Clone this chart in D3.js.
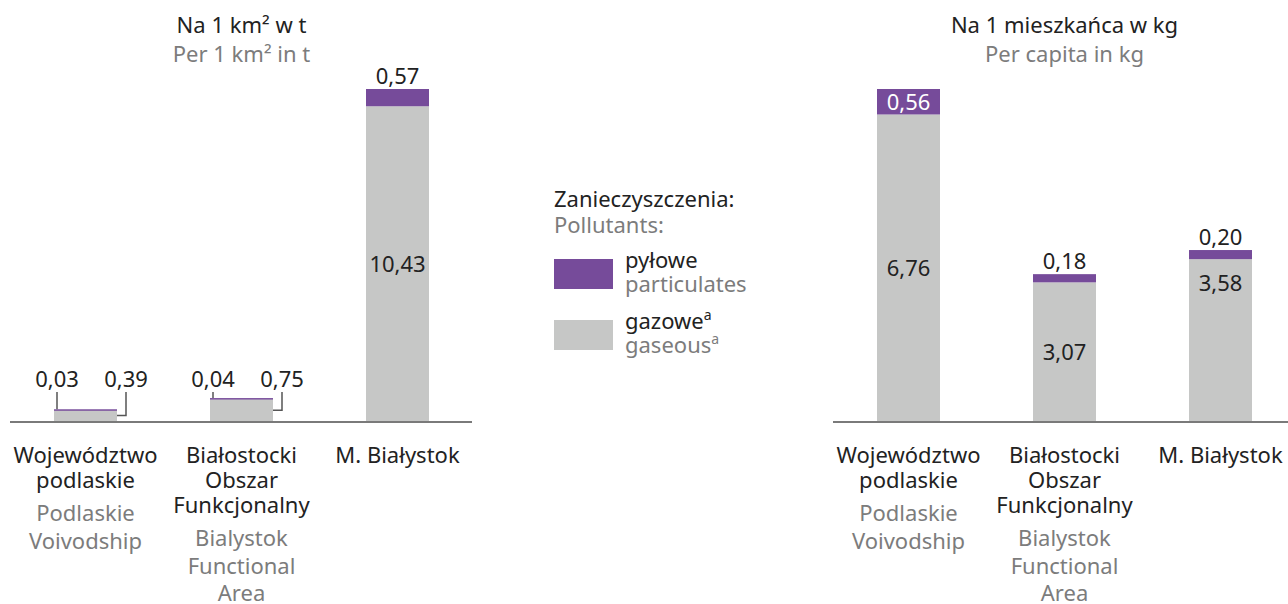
<!DOCTYPE html>
<html>
<head>
<meta charset="utf-8">
<script src="https://d3js.org/d3.v7.min.js"></script>
<style>
  body { margin: 0; background: #fff; }
  svg { display: block; font-family: "Noto Sans", sans-serif; }
</style>
</head>
<body>
<svg width="1288" height="604"></svg>
<script>
 // data
 var categoriesPl = [["Województwo", "podlaskie"], ["Białostocki", "Obszar", "Funkcjonalny"], ["M. Białystok"]];
 var categoriesEn = [["Podlaskie", "Voivodship"], ["Bialystok", "Functional", "Area"], []];
 var areaParticulates = [0.03, 0.04, 0.57];
 var areaGaseous = [0.39, 0.75, 10.43];
 var capitaParticulates = [0.56, 0.18, 0.20];
 var capitaGaseous = [6.76, 3.07, 3.58];
 var titlesPl = ["Na 1 km² w t", "Na 1 mieszkańca w kg"];
 var titlesEn = ["Per 1 km² in t", "Per capita in kg"];

 var PURPLE = "#764b9a", GRAY = "#c6c7c6", DARK = "#222", LIGHT = "#7c7c7c";
 var svg = d3.select("svg");
 var fmt = function (v) { return d3.format(".2f")(v).replace(".", ","); };
 var baseY = 422, topY = 89, barW = 63;

 function panel(idx, particulates, gaseous, xRange, axisRange) {
     var keys = d3.range(categoriesPl.length);
     var x = d3.scalePoint().domain(keys).range(xRange);
     var totals = keys.map(function (i) { return particulates[i] + gaseous[i]; });
     var y = d3.scaleLinear().domain([0, d3.max(totals)]).range([baseY, topY]);
     var g = svg.append("g");
     var cx = (xRange[0] + xRange[1]) / 2;

     g.append("text").attr("x", cx).attr("y", 33).attr("text-anchor", "middle")
        .attr("font-size", 22).attr("fill", DARK).text(titlesPl[idx]);
     g.append("text").attr("x", cx).attr("y", 62).attr("text-anchor", "middle")
        .attr("font-size", 22).attr("fill", LIGHT).text(titlesEn[idx]);

     // gaseous
     g.selectAll("rect.gas").data(keys).enter().append("rect")
        .attr("x", function (i) { return x(i) - barW / 2; })
        .attr("y", function (i) { return y(gaseous[i]); })
        .attr("width", barW)
        .attr("height", function (i) { return baseY - y(gaseous[i]); })
        .attr("fill", GRAY);
     // particulates
     g.selectAll("rect.pm").data(keys).enter().append("rect")
        .attr("x", function (i) { return x(i) - barW / 2; })
        .attr("y", function (i) { return y(totals[i]); })
        .attr("width", barW)
        .attr("height", function (i) { return Math.max(1.5, y(gaseous[i]) - y(totals[i])); })
        .attr("fill", PURPLE);

     g.append("line").attr("x1", axisRange[0]).attr("x2", axisRange[1])
        .attr("y1", baseY).attr("y2", baseY)
        .attr("stroke", "#7a7a7a").attr("stroke-width", 2);

     keys.forEach(function (i) {
         var left = x(i) - barW / 2, right = x(i) + barW / 2;
         var gTop = y(gaseous[i]), pTop = y(totals[i]);
         var gH = baseY - gTop, pH = gTop - pTop;
         if (gH < 30) {
             // small bars: labels with leader lines
             g.append("path").attr("d", "M" + (left + 3) + ",392V" + pTop)
                .attr("fill", "none").attr("stroke", "#555").attr("stroke-width", 1.5);
             g.append("path").attr("d", "M" + (right + 9) + ",392V" + (gTop + gH / 2 - 0.5) + "H" + right)
                .attr("fill", "none").attr("stroke", "#555").attr("stroke-width", 1.5);
             g.append("text").attr("x", left + 3).attr("y", 387).attr("text-anchor", "middle")
                .attr("font-size", 22).attr("fill", DARK).text(fmt(particulates[i]));
             g.append("text").attr("x", right + 9).attr("y", 387).attr("text-anchor", "middle")
                .attr("font-size", 22).attr("fill", DARK).text(fmt(gaseous[i]));
             return;
         }
         if (pH > 22) {
             g.append("text").attr("x", x(i)).attr("y", pTop + pH / 2 + 8).attr("text-anchor", "middle")
                .attr("font-size", 22).attr("fill", "#fff").text(fmt(particulates[i]));
         } else {
             g.append("text").attr("x", x(i)).attr("y", pTop - 5).attr("text-anchor", "middle")
                .attr("font-size", 22).attr("fill", DARK).text(fmt(particulates[i]));
         }
         // gaseous label: centred, the last right-hand bar sits near its top
         var ly = (idx === 1 && i === 2) ? gTop + 32 : gTop + gH / 2 + 8;
         g.append("text").attr("x", x(i)).attr("y", ly).attr("text-anchor", "middle")
            .attr("font-size", 22).attr("fill", DARK).text(fmt(gaseous[i]));
     });

     // category labels
     keys.forEach(function (i) {
         var t = g.append("text").attr("text-anchor", "middle").attr("font-size", 22);
         var yy = 462.5;
         categoriesPl[i].forEach(function (s, k) {
             t.append("tspan").attr("x", x(i)).attr("y", yy + k * 25).attr("fill", DARK).text(s);
         });
         var yEn = yy + (categoriesPl[i].length - 1) * 25 + 33.5;
         categoriesEn[i].forEach(function (s, k) {
             t.append("tspan").attr("x", x(i)).attr("y", yEn + k * 27.5).attr("fill", LIGHT).text(s);
         });
     });
 }

 panel(0, areaParticulates, areaGaseous, [85.5, 397.5], [10, 472]);
 panel(1, capitaParticulates, capitaGaseous, [908.5, 1220.5], [833, 1288]);

 // legend
 var lg = svg.append("g");
 lg.append("text").attr("x", 554).attr("y", 207).attr("font-size", 22).attr("fill", DARK).text("Zanieczyszczenia:");
 lg.append("text").attr("x", 554).attr("y", 233).attr("font-size", 22).attr("fill", LIGHT).text("Pollutants:");
 var legendItems = [
     { color: PURPLE, pl: "pyłowe", en: "particulates", sup: false },
     { color: GRAY, pl: "gazowe", en: "gaseous", sup: true }
 ];
 legendItems.forEach(function (d, i) {
     var y0 = 259 + i * 61;
     lg.append("rect").attr("x", 554).attr("y", y0).attr("width", 59).attr("height", 30).attr("fill", d.color);
     var t1 = lg.append("text").attr("x", 625).attr("y", y0 + 9).attr("font-size", 22).attr("fill", DARK).text(d.pl);
     var t2 = lg.append("text").attr("x", 625).attr("y", y0 + 33).attr("font-size", 22).attr("fill", LIGHT).text(d.en);
     if (d.sup) {
         t1.append("tspan").attr("font-size", 14).attr("dy", -9).text("a");
         t2.append("tspan").attr("font-size", 14).attr("dy", -9).text("a");
     }
 });
</script>
</body>
</html>
